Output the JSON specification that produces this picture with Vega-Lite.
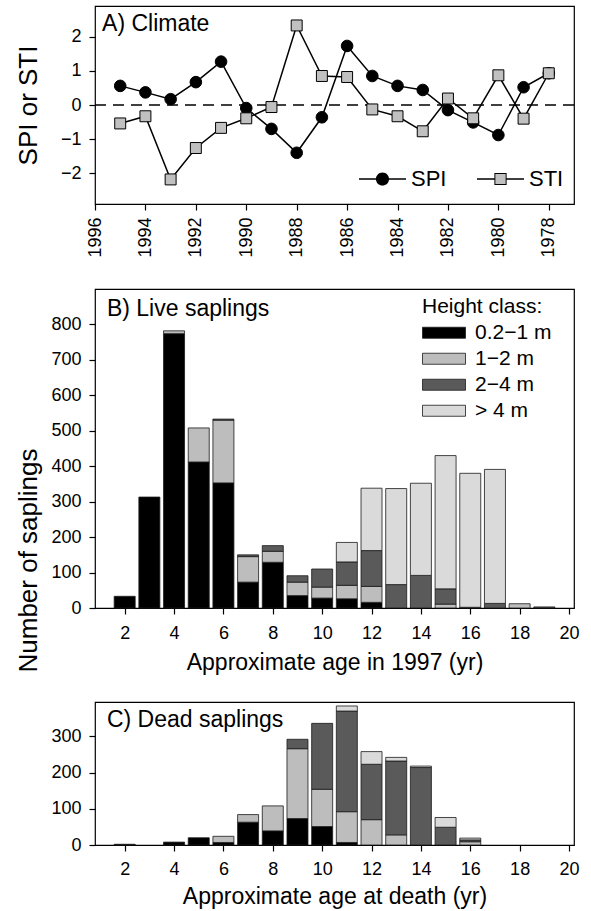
{
  "$schema": "https://vega.github.io/schema/vega-lite/v6.json",
  "padding": {"left": 14, "top": 5, "right": 2, "bottom": 2},
  "background": "white",
  "config": {
    "font": "Liberation Sans",
    "view": {"stroke": "#000", "strokeWidth": 1.2},
    "axis": {"domain": false, "grid": false, "ticks": true, "tickColor": "#000", "tickSize": 6, "tickWidth": 1.2, "labelFontSize": 18, "labelColor": "#000", "titleFontSize": 23, "titleFontWeight": "normal", "titleColor": "#000", "labelPadding": 8, "labelOverlap": false, "labelFlush": false, "labelBound": false},
    "text": {"font": "Liberation Sans", "fontSize": 23, "color": "#000"},
    "legend": {"labelColor": "#000", "titleColor": "#000", "labelFont": "Liberation Sans", "titleFont": "Liberation Sans"}
  },
  "datasets": {
    "climate": [
      {"year": 1995, "series": "SPI", "value": 0.56},
      {"year": 1994, "series": "SPI", "value": 0.37},
      {"year": 1993, "series": "SPI", "value": 0.17},
      {"year": 1992, "series": "SPI", "value": 0.67},
      {"year": 1991, "series": "SPI", "value": 1.27},
      {"year": 1990, "series": "SPI", "value": -0.09},
      {"year": 1989, "series": "SPI", "value": -0.7},
      {"year": 1988, "series": "SPI", "value": -1.4},
      {"year": 1987, "series": "SPI", "value": -0.36},
      {"year": 1986, "series": "SPI", "value": 1.73},
      {"year": 1985, "series": "SPI", "value": 0.85},
      {"year": 1984, "series": "SPI", "value": 0.56},
      {"year": 1983, "series": "SPI", "value": 0.44},
      {"year": 1982, "series": "SPI", "value": -0.15},
      {"year": 1981, "series": "SPI", "value": -0.51},
      {"year": 1980, "series": "SPI", "value": -0.88},
      {"year": 1979, "series": "SPI", "value": 0.52},
      {"year": 1978, "series": "SPI", "value": 0.93},
      {"year": 1995, "series": "STI", "value": -0.54},
      {"year": 1994, "series": "STI", "value": -0.33},
      {"year": 1993, "series": "STI", "value": -2.18},
      {"year": 1992, "series": "STI", "value": -1.26},
      {"year": 1991, "series": "STI", "value": -0.67},
      {"year": 1990, "series": "STI", "value": -0.39},
      {"year": 1989, "series": "STI", "value": -0.06},
      {"year": 1988, "series": "STI", "value": 2.33},
      {"year": 1987, "series": "STI", "value": 0.85},
      {"year": 1986, "series": "STI", "value": 0.82},
      {"year": 1985, "series": "STI", "value": -0.13},
      {"year": 1984, "series": "STI", "value": -0.33},
      {"year": 1983, "series": "STI", "value": -0.77},
      {"year": 1982, "series": "STI", "value": 0.19},
      {"year": 1981, "series": "STI", "value": -0.39},
      {"year": 1980, "series": "STI", "value": 0.87},
      {"year": 1979, "series": "STI", "value": -0.4},
      {"year": 1978, "series": "STI", "value": 0.93}
    ],
    "live": [
      {"age": 2, "cls": "0.2−1 m", "k": 0, "n": 33},
      {"age": 3, "cls": "0.2−1 m", "k": 0, "n": 313},
      {"age": 4, "cls": "0.2−1 m", "k": 0, "n": 774},
      {"age": 4, "cls": "1−2 m", "k": 1, "n": 8},
      {"age": 5, "cls": "0.2−1 m", "k": 0, "n": 412},
      {"age": 5, "cls": "1−2 m", "k": 1, "n": 96},
      {"age": 6, "cls": "0.2−1 m", "k": 0, "n": 353},
      {"age": 6, "cls": "1−2 m", "k": 1, "n": 177},
      {"age": 6, "cls": "2−4 m", "k": 2, "n": 3},
      {"age": 7, "cls": "0.2−1 m", "k": 0, "n": 73},
      {"age": 7, "cls": "1−2 m", "k": 1, "n": 72},
      {"age": 7, "cls": "2−4 m", "k": 2, "n": 5},
      {"age": 8, "cls": "0.2−1 m", "k": 0, "n": 129},
      {"age": 8, "cls": "1−2 m", "k": 1, "n": 31},
      {"age": 8, "cls": "2−4 m", "k": 2, "n": 16},
      {"age": 9, "cls": "0.2−1 m", "k": 0, "n": 35},
      {"age": 9, "cls": "1−2 m", "k": 1, "n": 38},
      {"age": 9, "cls": "2−4 m", "k": 2, "n": 18},
      {"age": 10, "cls": "0.2−1 m", "k": 0, "n": 28},
      {"age": 10, "cls": "1−2 m", "k": 1, "n": 31},
      {"age": 10, "cls": "2−4 m", "k": 2, "n": 51},
      {"age": 11, "cls": "0.2−1 m", "k": 0, "n": 26},
      {"age": 11, "cls": "1−2 m", "k": 1, "n": 38},
      {"age": 11, "cls": "2−4 m", "k": 2, "n": 66},
      {"age": 11, "cls": "> 4 m", "k": 3, "n": 55},
      {"age": 12, "cls": "0.2−1 m", "k": 0, "n": 16},
      {"age": 12, "cls": "1−2 m", "k": 1, "n": 45},
      {"age": 12, "cls": "2−4 m", "k": 2, "n": 101},
      {"age": 12, "cls": "> 4 m", "k": 3, "n": 176},
      {"age": 13, "cls": "2−4 m", "k": 2, "n": 66},
      {"age": 13, "cls": "> 4 m", "k": 3, "n": 271},
      {"age": 14, "cls": "2−4 m", "k": 2, "n": 92},
      {"age": 14, "cls": "> 4 m", "k": 3, "n": 260},
      {"age": 15, "cls": "1−2 m", "k": 1, "n": 11},
      {"age": 15, "cls": "2−4 m", "k": 2, "n": 43},
      {"age": 15, "cls": "> 4 m", "k": 3, "n": 376},
      {"age": 16, "cls": "2−4 m", "k": 2, "n": 2},
      {"age": 16, "cls": "> 4 m", "k": 3, "n": 378},
      {"age": 17, "cls": "2−4 m", "k": 2, "n": 13},
      {"age": 17, "cls": "> 4 m", "k": 3, "n": 378},
      {"age": 18, "cls": "1−2 m", "k": 1, "n": 12},
      {"age": 19, "cls": "2−4 m", "k": 2, "n": 3}
    ],
    "dead": [
      {"age": 2, "cls": "0.2−1 m", "k": 0, "n": 2},
      {"age": 4, "cls": "0.2−1 m", "k": 0, "n": 8},
      {"age": 5, "cls": "0.2−1 m", "k": 0, "n": 20},
      {"age": 6, "cls": "0.2−1 m", "k": 0, "n": 7},
      {"age": 6, "cls": "1−2 m", "k": 1, "n": 17},
      {"age": 7, "cls": "0.2−1 m", "k": 0, "n": 63},
      {"age": 7, "cls": "1−2 m", "k": 1, "n": 21},
      {"age": 8, "cls": "0.2−1 m", "k": 0, "n": 39},
      {"age": 8, "cls": "1−2 m", "k": 1, "n": 69},
      {"age": 9, "cls": "0.2−1 m", "k": 0, "n": 73},
      {"age": 9, "cls": "1−2 m", "k": 1, "n": 193},
      {"age": 9, "cls": "2−4 m", "k": 2, "n": 26},
      {"age": 10, "cls": "0.2−1 m", "k": 0, "n": 51},
      {"age": 10, "cls": "1−2 m", "k": 1, "n": 103},
      {"age": 10, "cls": "2−4 m", "k": 2, "n": 182},
      {"age": 11, "cls": "0.2−1 m", "k": 0, "n": 7},
      {"age": 11, "cls": "1−2 m", "k": 1, "n": 85},
      {"age": 11, "cls": "2−4 m", "k": 2, "n": 278},
      {"age": 11, "cls": "> 4 m", "k": 3, "n": 14},
      {"age": 12, "cls": "1−2 m", "k": 1, "n": 70},
      {"age": 12, "cls": "2−4 m", "k": 2, "n": 153},
      {"age": 12, "cls": "> 4 m", "k": 3, "n": 35},
      {"age": 13, "cls": "1−2 m", "k": 1, "n": 28},
      {"age": 13, "cls": "2−4 m", "k": 2, "n": 204},
      {"age": 13, "cls": "> 4 m", "k": 3, "n": 10},
      {"age": 14, "cls": "2−4 m", "k": 2, "n": 214},
      {"age": 14, "cls": "> 4 m", "k": 3, "n": 4},
      {"age": 15, "cls": "2−4 m", "k": 2, "n": 49},
      {"age": 15, "cls": "> 4 m", "k": 3, "n": 27},
      {"age": 16, "cls": "1−2 m", "k": 1, "n": 9},
      {"age": 16, "cls": "2−4 m", "k": 2, "n": 5},
      {"age": 16, "cls": "> 4 m", "k": 3, "n": 5}
    ],
    "zero": [{"ref": 0}]
  },
  "spacing": 30,
  "resolve": {"scale": {"color": "independent"}, "legend": {"color": "independent"}},
  "vconcat": [
    {
      "width": 479,
      "height": 198,
      "resolve": {"scale": {"shape": "independent"}, "legend": {"shape": "independent"}},
      "layer": [
        {
          "data": {"name": "zero"},
          "mark": {"type": "rule", "strokeDash": [11, 7], "strokeWidth": 1.3, "color": "#000"},
          "encoding": {"y": {"field": "ref", "type": "quantitative", "scale": {"domain": [-2.9, 2.9], "nice": false}}}
        },
        {
          "data": {"name": "climate"},
          "mark": {"type": "line", "color": "#000", "strokeWidth": 1.5},
          "encoding": {
            "x": {"field": "year", "type": "quantitative", "scale": {"domain": [1996, 1977], "nice": false, "zero": false},
                  "axis": {"values": [1977,1978,1979,1980,1981,1982,1983,1984,1985,1986,1987,1988,1989,1990,1991,1992,1993,1994,1995,1996], "labelExpr": "datum.value % 2 === 0 ? '' + datum.value : ''", "labelAngle": -90, "labelPadding": 7, "title": null}},
            "y": {"field": "value", "type": "quantitative", "scale": {"domain": [-2.9, 2.9], "nice": false},
                  "axis": {"values": [-2, -1, 0, 1, 2], "title": "SPI or STI", "titleFontSize": 26, "titleX": -67, "titleBaseline": "middle", "labelOverlap": false}},
            "detail": {"field": "series"}
          }
        },
        {
          "data": {"name": "climate"},
          "transform": [{"filter": "datum.series === 'SPI'"}],
          "mark": {"type": "point", "filled": true, "shape": "circle", "size": 135, "fill": "#000", "opacity": 1, "stroke": "#000", "strokeWidth": 1},
          "encoding": {
            "x": {"field": "year", "type": "quantitative"},
            "y": {"field": "value", "type": "quantitative"}
          }
        },
        {
          "data": {"name": "climate"},
          "transform": [{"filter": "datum.series === 'STI'"}],
          "mark": {"type": "point", "filled": true, "shape": "square", "size": 120, "fill": "#c0c0c0", "opacity": 1, "stroke": "#000", "strokeWidth": 1},
          "encoding": {
            "x": {"field": "year", "type": "quantitative"},
            "y": {"field": "value", "type": "quantitative"}
          }
        },
        {
          "data": {"name": "climate"},
          "transform": [{"filter": "datum.series === 'SPI'"}],
          "mark": {"type": "point", "filled": true, "fill": "#000", "opacity": 0},
          "encoding": {
            "x": {"field": "year", "type": "quantitative"},
            "y": {"field": "value", "type": "quantitative"},
            "shape": {"field": "series", "type": "nominal",
              "scale": {"domain": ["SPI"], "range": ["M-1,-0.03L-0.27,-0.03L-0.27,0.03L-1,0.03ZM0.27,-0.03L1,-0.03L1,0.03L0.27,0.03ZM0.28,0A0.28,0.28,0,1,1,-0.28,0A0.28,0.28,0,1,1,0.28,0Z"]},
              "legend": {
                "orient": "none", "legendX": 263, "legendY": 160, "title": null,
                "labelFontSize": 22, "labelOffset": 4, "clipHeight": 26,
                "symbolSize": 2209, "symbolOpacity": 1
              }}
          }
        },
        {
          "data": {"name": "climate"},
          "transform": [{"filter": "datum.series === 'STI'"}],
          "mark": {"type": "point", "filled": true, "fill": "#c0c0c0", "opacity": 0},
          "encoding": {
            "x": {"field": "year", "type": "quantitative"},
            "y": {"field": "value", "type": "quantitative"},
            "shape": {"field": "series", "type": "nominal",
              "scale": {"domain": ["STI"], "range": ["M-0.215,-0.215L0.215,-0.215L0.215,0.215L-0.215,0.215Z"]},
              "legend": {
                "orient": "none", "legendX": 381, "legendY": 160, "title": null,
                "labelFontSize": 22, "labelOffset": 4, "clipHeight": 26, "labelOpacity": 0,
                "symbolSize": 2209, "symbolOpacity": 1
              }}
          }
        },
        {
          "data": {"name": "climate"},
          "transform": [{"filter": "datum.series === 'STI'"}],
          "mark": {"type": "point", "filled": true, "fill": "#000", "opacity": 0},
          "encoding": {
            "x": {"field": "year", "type": "quantitative"},
            "y": {"field": "value", "type": "quantitative"},
            "shape": {"field": "series", "type": "nominal",
              "scale": {"domain": ["STI"], "range": ["M-1,-0.03L-0.26,-0.03L-0.26,0.03L-1,0.03ZM0.26,-0.03L1,-0.03L1,0.03L0.26,0.03ZM-0.26,-0.26L0.26,-0.26L0.26,0.26L-0.26,0.26ZM-0.215,-0.215L-0.215,0.215L0.215,0.215L0.215,-0.215Z"]},
              "legend": {
                "orient": "none", "legendX": 381, "legendY": 160, "title": null,
                "labelFontSize": 22, "labelOffset": 4, "clipHeight": 26,
                "symbolSize": 2209, "symbolOpacity": 1
              }}
          }
        },
        {
          "data": {"values": [{"panel": "A) Climate"}]},
          "mark": {"type": "text", "align": "left", "baseline": "alphabetic", "fontSize": 23},
          "encoding": {"x": {"datum": 1995.72}, "y": {"datum": 2.16}, "text": {"field": "panel"}}
        }
      ]
    },
    {
      "spacing": 26,
      "resolve": {"scale": {"color": "independent"}, "legend": {"color": "independent"}},
      "vconcat": [
        {
          "width": 479,
          "height": 319,
          "layer": [
            {
              "data": {"name": "live"},
              "mark": {"type": "bar", "width": 21, "stroke": "#1a1a1a", "strokeWidth": 0.8},
              "encoding": {
                "x": {"field": "age", "type": "quantitative", "scale": {"domain": [1, 20], "nice": false, "zero": false},
                      "axis": {"values": [2,3,4,5,6,7,8,9,10,11,12,13,14,15,16,17,18,19,20], "labelExpr": "datum.value % 2 === 0 ? '' + datum.value : ''", "title": "Approximate age in 1997 (yr)", "labelPadding": 10, "titlePadding": 9}},
                "y": {"field": "n", "type": "quantitative", "stack": "zero", "scale": {"domain": [0, 900], "nice": false},
                      "axis": {"values": [0,100,200,300,400,500,600,700,800], "labelOverlap": false, "title": "Number of saplings", "titleFontSize": 26, "titleX": -67, "titleY": 271, "titleBaseline": "middle"}},
                "color": {"field": "cls", "type": "nominal",
                          "scale": {"domain": ["0.2−1 m", "1−2 m", "2−4 m", "> 4 m"], "range": ["#000000", "#bdbdbd", "#5a5a5a", "#dadada"]},
                          "legend": {"orient": "none", "legendX": 327, "legendY": 6.5, "title": "Height class:", "titleFontSize": 21, "titleFontWeight": "normal", "titlePadding": 3.5,
                                     "labelFontSize": 21, "labelOffset": 9, "symbolType": "M-1,-0.256L1,-0.256L1,0.256L-1,0.256Z", "symbolSize": 1849,
                                     "symbolStrokeColor": "#1a1a1a", "symbolStrokeWidth": 0.8, "symbolOpacity": 1, "clipHeight": 25.5, "rowPadding": 0}},
                "order": {"field": "k", "type": "quantitative"}
              }
            },
            {
              "data": {"values": [{"panel": "B) Live saplings"}]},
              "mark": {"type": "text", "align": "left", "baseline": "alphabetic", "fontSize": 23},
              "encoding": {"x": {"datum": 1.28}, "y": {"datum": 823.8, "axis": {"values": [0,100,200,300,400,500,600,700,800], "labelOverlap": false}}, "text": {"field": "panel"}}
            }
          ]
        },
        {
          "width": 479,
          "height": 143,
          "layer": [
            {
              "data": {"name": "dead"},
              "mark": {"type": "bar", "width": 21, "stroke": "#1a1a1a", "strokeWidth": 0.8},
              "encoding": {
                "x": {"field": "age", "type": "quantitative", "scale": {"domain": [1, 20], "nice": false, "zero": false},
                      "axis": {"values": [2,3,4,5,6,7,8,9,10,11,12,13,14,15,16,17,18,19,20], "labelExpr": "datum.value % 2 === 0 ? '' + datum.value : ''", "title": "Approximate age at death (yr)", "labelPadding": 9, "titlePadding": 7}},
                "y": {"field": "n", "type": "quantitative", "stack": "zero", "scale": {"domain": [0, 395], "nice": false},
                      "axis": {"values": [0, 100, 200, 300], "title": null}},
                "color": {"field": "cls", "type": "nominal",
                          "scale": {"domain": ["0.2−1 m", "1−2 m", "2−4 m", "> 4 m"], "range": ["#000000", "#bdbdbd", "#5a5a5a", "#dadada"]},
                          "legend": null},
                "order": {"field": "k", "type": "quantitative"}
              }
            },
            {
              "data": {"values": [{"panel": "C) Dead saplings"}]},
              "mark": {"type": "text", "align": "left", "baseline": "alphabetic", "fontSize": 23},
              "encoding": {"x": {"datum": 1.28}, "y": {"datum": 324.6}, "text": {"field": "panel"}}
            }
          ]
        }
      ]
    }
  ]
}
